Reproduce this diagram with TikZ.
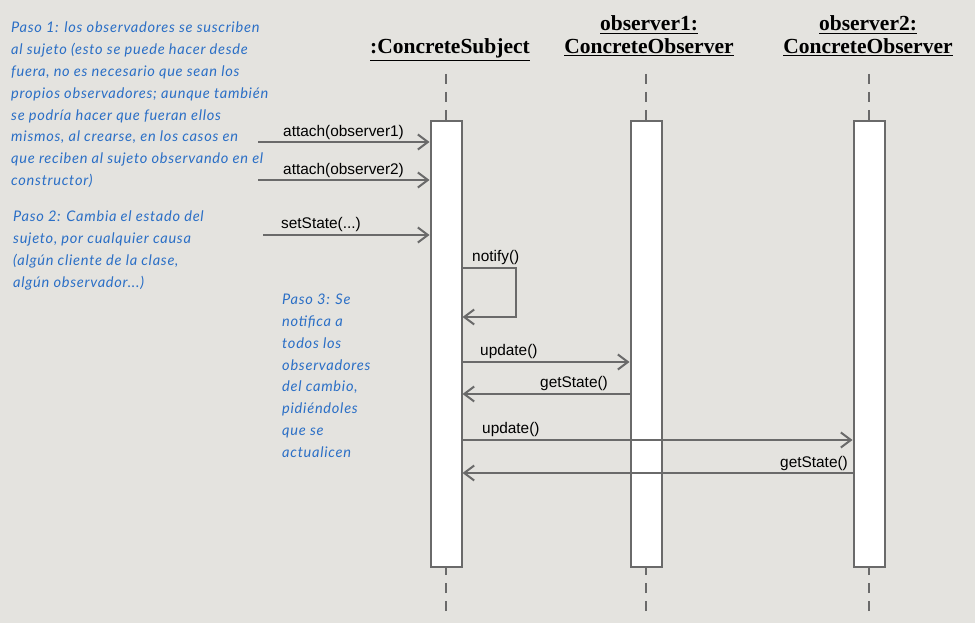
\documentclass[tikz,border=0pt]{standalone}
\usepackage{fontspec}
\setmainfont{Liberation Serif}
\setsansfont{Liberation Sans}
\newfontfamily\notefont[LetterSpace=5]{Lato}
\usetikzlibrary{arrows.meta}

\definecolor{bgcol}{HTML}{E4E3DF}
\definecolor{linecol}{HTML}{6A6A6A}
\definecolor{notecol}{HTML}{2B6FC6}

\tikzset{
  bar/.style={draw=linecol, line width=2pt, fill=white, minimum width=31pt, minimum height=446pt, inner sep=0},
  life/.style={draw=linecol, line width=2pt, dash pattern=on 10pt off 8pt},
  msg/.style={draw=linecol, line width=2pt, -{Straight Barb[length=10pt,width=15pt]}},
  msglabel/.style={font=\sffamily\fontsize{15.4}{18}\selectfont, inner sep=0, anchor=base west},
  head/.style={font=\bfseries\fontsize{21.5}{23}\selectfont, inner sep=0, anchor=base},
  note/.style={font=\notefont\itshape\fontsize{14.6}{21.8}\selectfont, text=notecol, align=left, inner sep=0, anchor=north west}
}

\begin{document}
\begin{tikzpicture}[x=1pt, y=-1pt]
\fill[bgcol] (0,0) rectangle (975,623);
\useasboundingbox (0,0) rectangle (975,623);

% objects
\node[head] (subjname) at (450,54) {\underline{:ConcreteSubject}};
\node[head] (obs1top) at (649,31) {\underline{observer1:}};
\node[head] (obs1name) at (649,54) {\underline{ConcreteObserver}};
\node[head] (obs2top) at (868,31) {\underline{observer2:}};
\node[head] (obs2name) at (868,54) {\underline{ConcreteObserver}};

% activation bars
\node[bar] (subj) at (446,344) {};
\node[bar] (obs1) at (646,344) {};
\node[bar] (obs2) at (869,344) {};

% lifelines
\foreach \b in {subj, obs1, obs2} {
  \path (\b.north) ++(0,-46) coordinate (\b-top);
  \path (\b.south) ++(0,43) coordinate (\b-end);
  \draw[life] (\b-top) -- (\b.north);
  \draw[life] (\b-end) -- (\b.south);
}

% message levels
\coordinate (att1) at (258,142);
\coordinate (att2) at (258,180);
\coordinate (set) at (263,235);
\coordinate (nfy) at (516,268);
\coordinate (nfyback) at (516,317);
\coordinate (upd1) at (0,362);
\coordinate (get1) at (0,394);
\coordinate (upd2) at (0,440);
\coordinate (get2) at (0,473);

\draw[msg] (att1) -- (att1 -| subj.west);
\draw[msg] (att2) -- (att2 -| subj.west);
\draw[msg] (set) -- (set -| subj.west);
\draw[msg] (nfy -| subj.east) -- (nfy) -- (nfyback) -- (nfyback -| subj.east);
\draw[msg] (upd1 -| subj.east) -- (upd1 -| obs1.west);
\draw[msg] (get1 -| obs1.west) -- (get1 -| subj.east);
\draw[msg] (upd2 -| subj.east) -- (upd2 -| obs2.west);
\draw[msg] (get2 -| obs2.west) -- (get2 -| subj.east);

\node[msglabel] (latt1) at (283,137) {attach(observer1)};
\node[msglabel] (latt2) at (283,175) {attach(observer2)};
\node[msglabel] (lset) at (281,228) {setState(...)};
\node[msglabel] (lnfy) at (472,261) {notify()};
\node[msglabel] (lupd1) at (480,355) {update()};
\node[msglabel] (lget1) at (540,387) {getState()};
\node[msglabel] (lupd2) at (482,433) {update()};
\node[msglabel] (lget2) at (780,467) {getState()};

% notes
\node[note] (paso1) at (11,22) {Paso 1: los observadores se suscriben\\
al sujeto (esto se puede hacer desde\\
fuera, no es necesario que sean los\\
propios observadores; aunque también\\
se podría hacer que fueran ellos\\
mismos, al crearse, en los casos en\\
que reciben al sujeto observando en el\\
constructor)};
\node[note] (paso2) at (13,211) {Paso 2: Cambia el estado del\\
sujeto, por cualquier causa\\
(algún cliente de la clase,\\
algún observador...)};
\node[note] (paso3) at (282,294) {Paso 3: Se\\
notifica a\\
todos los\\
observadores\\
del cambio,\\
pidiéndoles\\
que se\\
actualicen};
\end{tikzpicture}
\end{document}
